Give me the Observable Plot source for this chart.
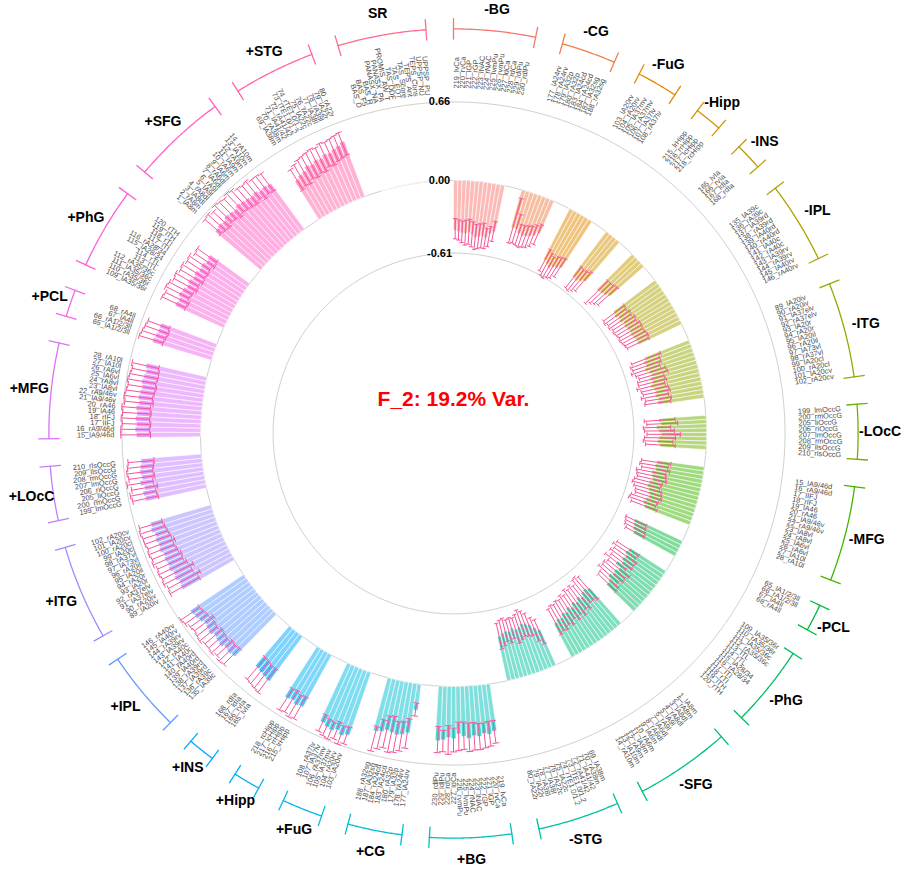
<!DOCTYPE html>
<html><head><meta charset="utf-8">
<script src="https://cdn.jsdelivr.net/npm/d3@7"></script>
<script src="https://cdn.jsdelivr.net/npm/@observablehq/plot@0.6"></script>
<style>body{margin:0;background:#fff;} #chart svg{display:block;}</style>
</head><body><div id="chart"></div>
<script>
// ---------- data ----------
const groupOrder = ["-BG","-CG","-FuG","-Hipp","-INS","-IPL","-ITG","-LOcC","-MFG","-PCL","-PhG","-SFG","-STG",
  "+BG","+CG","+FuG","+Hipp","+INS","+IPL","+ITG","+LOcC","+MFG","+PCL","+PhG","+SFG","+STG","SR"];

const bgParcels = ["219_lvCa","220_rvCa","221_lGP","222_rGP","223_lNAC","224_rNAC","225_lvmPu","226_rvmPu","227_ldCa","228_rdCa","229_ldlPu","230_rdlPu"];
const cgParcels = ["177_lA24rv","178_rA24rv","179_lA32p","180_rA32p","183_lA24cd","184_rA24cd","187_lA32sg","188_rA32sg"];
const fugParcels = ["103_lA20rv","104_rA20rv","105_lA37mv","106_rA37mv","107_lA37lv","108_rA37lv"];
const hippParcels = ["215_lrHipp","216_rrHipp","217_lcHipp","218_rcHipp"];
const insParcels = ["165_lvIa","166_rvIa","167_ldIa","168_rdIa"];
const iplParcels = ["135_lA39c","136_rA39c","137_lA39rd","138_rA39rd","139_lA40rd","140_rA40rd","141_lA40c","142_rA40c","143_lA39rv","144_rA39rv","145_lA40rv","146_rA40rv"];
const itgParcels = ["89_lA20iv","90_rA20iv","91_lA37elv","92_rA37elv","93_lA20r","94_rA20r","95_lA20il","96_rA20il","97_lA73vl","98_rA37vl","99_lA20cl","100_rA20cl","101_lA20cv","102_rA20cv"];
const loccParcels = ["199_lmOccG","200_rmOccG","205_liOccG","206_riOccG","207_lmOccG","208_rmOccG","209_llsOccG","210_rlsOccG"];
const mfgParcels = ["15_lA9/46d","16_rA9/46d","17_lIFJ","18_rIFJ","19_lA46","20_rA46","21_lA9/46v","22_rA9/46v","23_lA8vl","24_rA8vl","25_lA6vl","26_rA6vl","27_lA10l","28_rA10l"];
const pclParcels = ["65_lA1/2/3ll","66_rA1/2/3ll","67_lA4ll","68_rA4ll"];
const phgParcels = ["109_lA35/36r","110_rA35/36r","111_lA35/36c","112_rA35/36c","113_lTL","114_rTL","115_lA28/34","116_rA28/34","117_lTI","118_rTI","119_lTH","120_rTH"];
const sfgParcels = ["1_lA8m","2_rA8m","3_lA8dl","4_rA8dl","5_lA9l","6_rA9l","7_lA6dl","8_rA6dl","9_lA6m","10_rA6m","11_lA9m","12_rA9m","13_lA10m","14_rA10m"];
const stgParcels = ["69_lA38m","70_rA38m","71_lA41/42","72_rA41/42","73_lTE1.0/1.2","74_rTE1.0/1.2","75_lA22c","76_rA22c","77_lA38l","78_rA38l","79_lA22r","80_rA22r"];
const srItems = ["BAS_D","BAS_F5","BAS_R","PANASX_NA","PANASX_PA","PROMIS_AW_T","TAS_DDF","TAS_EOT","TAS_Score","TEPS_Ant","TEPS_Cons","UPPSP_NU","UPPSP_PU"];

// each bar: [loading, CI end nearer zero, CI end farther from zero]
const negBG = [[-0.42,-0.32,-0.49],[-0.43,-0.33,-0.50],[-0.44,-0.34,-0.52],[-0.44,-0.33,-0.54],[-0.43,-0.32,-0.53],[-0.45,-0.34,-0.55],[-0.47,-0.36,-0.57],[-0.46,-0.35,-0.56],[-0.45,-0.34,-0.55],[-0.46,-0.38,-0.55],[-0.42,-0.36,-0.53],[-0.40,-0.31,-0.48]];
const negCG = [[-0.33,-0.07,-0.46],[-0.33,-0.20,-0.45],[-0.36,-0.28,-0.46],[-0.37,-0.28,-0.47],[-0.36,-0.27,-0.46],[-0.35,-0.26,-0.45],[-0.33,-0.24,-0.43],[-0.30,-0.22,-0.40]];
const negFuG = [[-0.48,-0.38,-0.58],[-0.50,-0.40,-0.61],[-0.52,-0.42,-0.62],[-0.50,-0.40,-0.60],[-0.49,-0.39,-0.59],[-0.47,-0.38,-0.56]];
const negHipp = [[-0.47,-0.36,-0.58],[-0.48,-0.37,-0.59],[-0.46,-0.36,-0.57],[-0.44,-0.34,-0.55]];
const negINS = [[-0.42,-0.30,-0.57],[-0.41,-0.30,-0.54],[-0.40,-0.29,-0.52],[-0.38,-0.28,-0.50]];
const negIPL = [[-0.44,-0.33,-0.55],[-0.45,-0.34,-0.56],[-0.43,-0.32,-0.54],[-0.44,-0.33,-0.55],[-0.42,-0.31,-0.53],[-0.43,-0.32,-0.54],[-0.42,-0.30,-0.53],[-0.41,-0.30,-0.52],[-0.42,-0.31,-0.53],[-0.41,-0.30,-0.52],[-0.40,-0.29,-0.51],[-0.40,-0.30,-0.50]];
const negITG = [[-0.40,-0.26,-0.52],[-0.42,-0.28,-0.54],[-0.41,-0.28,-0.53],[-0.43,-0.30,-0.55],[-0.40,-0.26,-0.52],[-0.39,-0.25,-0.50],[-0.41,-0.29,-0.52],[-0.40,-0.28,-0.52],[-0.42,-0.30,-0.54],[-0.40,-0.28,-0.51],[-0.39,-0.27,-0.50],[-0.40,-0.29,-0.52],[-0.38,-0.27,-0.49],[-0.39,-0.28,-0.50]];
const negLOcC = [[-0.40,-0.26,-0.52],[-0.38,-0.24,-0.50],[-0.42,-0.30,-0.53],[-0.40,-0.27,-0.52],[-0.38,-0.22,-0.50],[-0.40,-0.26,-0.52],[-0.41,-0.28,-0.53],[-0.39,-0.26,-0.51]];
const negMFG = [[-0.40,-0.28,-0.53],[-0.41,-0.30,-0.54],[-0.40,-0.28,-0.52],[-0.43,-0.31,-0.56],[-0.42,-0.30,-0.55],[-0.41,-0.29,-0.54],[-0.43,-0.32,-0.56],[-0.44,-0.33,-0.57],[-0.42,-0.31,-0.55],[-0.41,-0.30,-0.53],[-0.40,-0.29,-0.52],[-0.42,-0.31,-0.55],[-0.43,-0.32,-0.56],[-0.41,-0.30,-0.53]];
const negPCL = [[-0.44,-0.33,-0.52],[-0.43,-0.32,-0.51],[-0.42,-0.31,-0.50],[-0.40,-0.30,-0.48]];
const negPhG = [[-0.36,-0.26,-0.48],[-0.37,-0.27,-0.50],[-0.35,-0.24,-0.47],[-0.36,-0.25,-0.49],[-0.34,-0.24,-0.46],[-0.38,-0.28,-0.50],[-0.33,-0.22,-0.45],[-0.35,-0.24,-0.47],[-0.34,-0.23,-0.46],[-0.36,-0.26,-0.48],[-0.33,-0.23,-0.44],[-0.32,-0.22,-0.43]];
const negSFG = [[-0.40,-0.28,-0.53],[-0.42,-0.30,-0.55],[-0.41,-0.30,-0.54],[-0.38,-0.26,-0.50],[-0.40,-0.28,-0.52],[-0.37,-0.24,-0.50],[-0.39,-0.27,-0.52],[-0.36,-0.24,-0.48],[-0.38,-0.27,-0.50],[-0.35,-0.23,-0.47],[-0.36,-0.25,-0.48],[-0.33,-0.22,-0.46],[-0.34,-0.23,-0.47],[-0.32,-0.21,-0.45]];
const negSTG = [[-0.33,-0.20,-0.42],[-0.36,-0.24,-0.45],[-0.40,-0.30,-0.50],[-0.42,-0.31,-0.53],[-0.43,-0.32,-0.55],[-0.41,-0.30,-0.52],[-0.40,-0.28,-0.50],[-0.42,-0.33,-0.51],[-0.40,-0.30,-0.50],[-0.41,-0.32,-0.52],[-0.40,-0.29,-0.51],[-0.38,-0.27,-0.49]];
const posBG = [[0.40,0.31,0.50],[0.42,0.31,0.52],[0.41,0.32,0.53],[0.43,0.32,0.54],[0.42,0.31,0.54],[0.44,0.31,0.55],[0.42,0.30,0.53],[0.40,0.30,0.54],[0.44,0.35,0.55],[0.43,0.33,0.57],[0.45,0.37,0.55],[0.46,0.34,0.56]];
const posCG = [[0.22,0.16,0.27],[0.42,0.30,0.55],[0.44,0.33,0.58],[0.45,0.34,0.60],[0.44,0.30,0.61],[0.43,0.31,0.58],[0.45,0.35,0.60],[0.46,0.42,0.63]];
const posFuG = [[0.56,0.49,0.64],[0.58,0.50,0.66],[0.55,0.48,0.63],[0.57,0.50,0.65],[0.56,0.49,0.64],[0.54,0.47,0.62]];
const posHipp = [[0.50,0.41,0.62],[0.51,0.42,0.63],[0.49,0.40,0.61],[0.50,0.41,0.62]];
const posINS = [[0.47,0.35,0.60],[0.46,0.35,0.59],[0.45,0.34,0.58],[0.44,0.33,0.57]];
const posIPL = [[0.50,0.42,0.61],[0.51,0.43,0.62],[0.50,0.42,0.60],[0.52,0.44,0.62],[0.51,0.43,0.61],[0.50,0.42,0.61],[0.52,0.44,0.63],[0.51,0.43,0.62],[0.50,0.41,0.61],[0.52,0.44,0.62],[0.53,0.45,0.64],[0.54,0.46,0.65]];
const posITG = [[0.50,0.33,0.61],[0.49,0.30,0.60],[0.51,0.35,0.62],[0.50,0.32,0.61],[0.52,0.36,0.62],[0.51,0.38,0.61],[0.52,0.37,0.63],[0.51,0.39,0.62],[0.53,0.40,0.63],[0.52,0.38,0.62],[0.53,0.40,0.63],[0.52,0.41,0.63],[0.54,0.42,0.64],[0.53,0.43,0.63]];
const posLOcC = [[0.52,0.41,0.63],[0.53,0.42,0.64],[0.51,0.40,0.62],[0.54,0.43,0.65],[0.52,0.41,0.63],[0.53,0.42,0.64],[0.52,0.41,0.63],[0.51,0.40,0.62]];
const posMFG = [[0.54,0.42,0.67],[0.55,0.43,0.67],[0.54,0.42,0.66],[0.55,0.43,0.67],[0.54,0.42,0.66],[0.55,0.43,0.67],[0.53,0.41,0.65],[0.54,0.42,0.66],[0.53,0.41,0.65],[0.52,0.40,0.64],[0.53,0.41,0.65],[0.52,0.40,0.64],[0.51,0.40,0.63],[0.52,0.41,0.64]];
const posPCL = [[0.52,0.43,0.64],[0.51,0.42,0.63],[0.50,0.41,0.62],[0.50,0.42,0.61]];
const posPhG = [[0.45,0.36,0.58],[0.44,0.35,0.57],[0.46,0.37,0.59],[0.45,0.36,0.58],[0.43,0.34,0.56],[0.44,0.35,0.57],[0.42,0.33,0.55],[0.43,0.34,0.56],[0.41,0.33,0.54],[0.42,0.34,0.55],[0.40,0.32,0.52],[0.41,0.33,0.53]];
const posSFG = [[0.50,0.45,0.63],[0.51,0.44,0.64],[0.50,0.43,0.62],[0.52,0.45,0.65],[0.51,0.44,0.64],[0.50,0.42,0.63],[0.52,0.44,0.65],[0.51,0.43,0.64],[0.50,0.42,0.62],[0.49,0.41,0.61],[0.50,0.43,0.62],[0.48,0.40,0.60],[0.49,0.42,0.60],[0.48,0.41,0.59]];
const posSTG = [[0.38,0.28,0.48],[0.40,0.30,0.50],[0.41,0.29,0.52],[0.44,0.32,0.53],[0.43,0.31,0.54],[0.45,0.33,0.55],[0.44,0.32,0.54],[0.46,0.35,0.56],[0.45,0.34,0.55],[0.47,0.36,0.56],[0.48,0.37,0.57],[0.50,0.38,0.58]];
const srVals = [[0.006,0.004,0.008],[0.005,0.003,0.007],[0.006,0.004,0.008],[0.007,0.005,0.009],[0.006,0.004,0.008],[0.008,0.006,0.010],[0.007,0.005,0.009],[0.008,0.006,0.010],[0.009,0.007,0.011],[0.008,0.006,0.010],[0.009,0.007,0.011],[0.010,0.008,0.012],[0.010,0.008,0.012]];

const gridValues = [-0.61, 0.00, 0.66];
const gridLabels = ["-0.61", "0.00", "0.66"];
const centerTitle = "F_2: 19.2% Var.";

// ---------- table built from the arrays ----------
const regionParcels = [bgParcels,cgParcels,fugParcels,hippParcels,insParcels,iplParcels,itgParcels,loccParcels,mfgParcels,pclParcels,phgParcels,sfgParcels,stgParcels];
const negVals = [negBG,negCG,negFuG,negHipp,negINS,negIPL,negITG,negLOcC,negMFG,negPCL,negPhG,negSFG,negSTG];
const posVals = [posBG,posCG,posFuG,posHipp,posINS,posIPL,posITG,posLOcC,posMFG,posPCL,posPhG,posSFG,posSTG];
const groupLabels = [...regionParcels, ...regionParcels, srItems];
const groupVals = [...negVals, ...posVals, srVals];

// ggplot2 hue palette (polar LUV, l=65, c=100)
function hueColor(h) {
  const l = 65, c = 100, hr = h * Math.PI / 180;
  const U = c * Math.cos(hr), V = c * Math.sin(hr);
  const Xn = 95.047, Yn = 100, Zn = 108.883;
  const un = 4 * Xn / (Xn + 15 * Yn + 3 * Zn), vn = 9 * Yn / (Xn + 15 * Yn + 3 * Zn);
  const Y = Yn * Math.pow((l + 16) / 116, 3);
  const u = U / (13 * l) + un, v = V / (13 * l) + vn;
  const X = 9 * Y * u / (4 * v), Z = 3 * Y / v - X / 3 - 5 * Y;
  const x = X / 100, y = Y / 100, z = Z / 100;
  const lin = [3.2404542*x - 1.5371385*y - 0.4985314*z, -0.9692660*x + 1.8760108*y + 0.0415560*z, 0.0556434*x - 0.2040259*y + 1.0572252*z];
  const g = lin.map(t => { t = Math.max(0, Math.min(1, t)); return Math.round(255 * (t <= 0.0031308 ? 12.92 * t : 1.055 * Math.pow(t, 1 / 2.4) - 0.055)); });
  return d3.rgb(g[0], g[1], g[2]).formatHex();
}
const nG = groupOrder.length;
const palette = groupOrder.map((g, i) => hueColor(15 + i * 360 / nG));

const GAP = 4;           // empty slots after each group
const R0 = 2.126;        // radius of the 0.00 circle, in loading units
const bars = [], groupsInfo = [];
let slot = 0;
groupOrder.forEach((g, gi) => {
  const start = slot;
  groupLabels[gi].forEach((lab, k) => {
    const [est, a, b] = groupVals[gi][k];
    bars.push({group: g, label: lab, est, a, b, slot, color: palette[gi]});
    slot++;
  });
  groupsInfo.push({name: g, start, end: slot, color: palette[gi]});
  slot += GAP;
});
const nSlots = slot;
const U = 360 / nSlots;
const rad = t => t * Math.PI / 180;
const px = (r, t) => r * Math.sin(rad(t));
const py = (r, t) => r * Math.cos(rad(t));

function sector(id, color, t1, t2, r1, r2) {
  return [[r1,t1],[r2,t1],[r2,t2],[r1,t2],[r1,t1]].map(([r,t]) => ({id, color, x: px(r,t), y: py(r,t)}));
}
// bar polygons (whole bar) and the darker band between the near CI end and the loading
const barPts = bars.flatMap((b, i) => sector(i, b.color, b.slot * U, (b.slot + 1) * U, R0, R0 + b.est));
const bandPts = bars.filter(b => Math.abs(b.a) < Math.abs(b.est))
  .flatMap((b, i) => sector(i, b.color, b.slot * U, (b.slot + 1) * U, R0 + b.a, R0 + b.est));
// error bars
const err = bars.filter(b => b.group !== "SR").map(b => ({...b, t: (b.slot + 0.5) * U}));
const CAP = 0.65;
const caps = err.flatMap(b => [b.a, b.b].map(v => ({v, t: b.t})));
// reference circles
const circlePts = gridValues.flatMap(v => d3.range(0, 361, 1).map(t => ({v, x: px(R0 + v, t), y: py(R0 + v, t)})));
// group arcs
const ARC_R = 3.40, TICK = 0.09;
const arcPts = groupsInfo.flatMap(g => d3.range(0, 41).map(k => {
  const t = (g.start + (g.end - g.start) * k / 40) * U;
  return {name: g.name, color: g.color, x: px(ARC_R, t), y: py(ARC_R, t)};
}));
const ticks = groupsInfo.flatMap(g => [g.start, g.end].map(s => ({color: g.color, t: s * U})));
const labRows = bars.map(b => ({...b, t: (b.slot + 0.5) * U}));
const rightLabs = labRows.filter(d => d.t < 180);
const leftLabs = labRows.filter(d => d.t >= 180);
const LAB_R_RIGHT = 2.90, LAB_R_LEFT = 2.85, GROUP_LAB_R = 3.585;
const errColor = "#f5559b";

const plot = Plot.plot({
  width: 907, height: 875,
  margin: 0,
  x: {domain: [-453/119, 454/119], axis: null},
  y: {domain: [-442/119, 433/119], axis: null},
  color: {type: "identity"},
  style: {fontFamily: "'Liberation Sans', Arial, sans-serif", background: "white"},
  marks: [
    Plot.line(circlePts, {x: "x", y: "y", z: "v", stroke: "#d0d0d0", strokeWidth: 1}),
    Plot.line(barPts, {x: "x", y: "y", z: "id", fill: "color", fillOpacity: 0.5, stroke: "white", strokeWidth: 0.6, curve: "linear"}),
    Plot.line(bandPts, {x: "x", y: "y", z: "id", fill: "color", fillOpacity: 0.4, stroke: "white", strokeWidth: 0.6, curve: "linear"}),
    Plot.link(err, {x1: d => px(R0 + d.a, d.t), y1: d => py(R0 + d.a, d.t), x2: d => px(R0 + d.b, d.t), y2: d => py(R0 + d.b, d.t), stroke: errColor, strokeWidth: 1}),
    Plot.link(caps, {x1: d => px(R0 + d.v, d.t - CAP*U), y1: d => py(R0 + d.v, d.t - CAP*U), x2: d => px(R0 + d.v, d.t + CAP*U), y2: d => py(R0 + d.v, d.t + CAP*U), stroke: errColor, strokeWidth: 1}),
    Plot.text(rightLabs, {x: d => px(LAB_R_RIGHT, d.t), y: d => py(LAB_R_RIGHT, d.t), text: "label", rotate: d => d.t - 90, textAnchor: "start", fontSize: 7.4, fill: "#4d4d4d"}),
    Plot.text(leftLabs, {x: d => px(LAB_R_LEFT, d.t), y: d => py(LAB_R_LEFT, d.t), text: "label", rotate: d => d.t + 90, textAnchor: "end", fontSize: 7.4, fill: "#4d4d4d"}),
    Plot.line(arcPts, {x: "x", y: "y", z: "name", stroke: "color", strokeWidth: 1.3}),
    Plot.link(ticks, {x1: d => px(ARC_R - TICK, d.t), y1: d => py(ARC_R - TICK, d.t), x2: d => px(ARC_R + TICK, d.t), y2: d => py(ARC_R + TICK, d.t), stroke: "color", strokeWidth: 1.3}),
    Plot.text(groupsInfo, {x: d => px(GROUP_LAB_R, (d.start + d.end) / 2 * U), y: d => py(GROUP_LAB_R, (d.start + d.end) / 2 * U), text: "name", fontSize: 14, fontWeight: "bold", fill: "black"}),
    Plot.text(gridValues, {x: 0, y: d => R0 + d, text: (d, i) => gridLabels[i], dx: -14, fontSize: 11, fontWeight: "bold", fill: "black"}),
    Plot.text([centerTitle], {x: 0, y: 0.286, text: d => d, fontSize: 21, fontWeight: "bold", fill: "#ff0000"})
  ]
});
document.getElementById("chart").appendChild(plot);
</script></body></html>
